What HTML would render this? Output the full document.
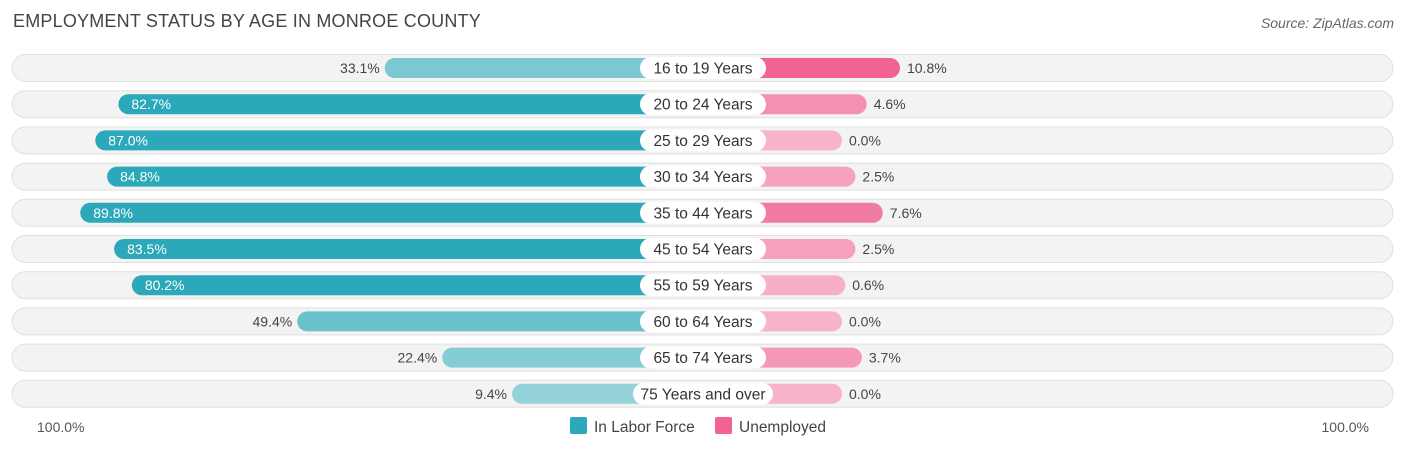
<!DOCTYPE html>
<html><head><meta charset="utf-8">
<style>
body{margin:0;width:1406px;height:450px;background:#fff;font-family:"Liberation Sans",sans-serif;position:relative;overflow:hidden}
.title{position:absolute;left:13px;top:11px;font-size:18px;color:#444;letter-spacing:0.2px}
.src{position:absolute;right:12px;top:15px;font-size:14px;color:#666;font-style:italic}
svg{position:absolute;left:0;top:0}
</style></head><body>
<div class="title">EMPLOYMENT STATUS BY AGE IN MONROE COUNTY</div>
<div class="src">Source: ZipAtlas.com</div>
<svg id="chart" width="1406" height="450"></svg>
<script>
const categories=["16 to 19 Years","20 to 24 Years","25 to 29 Years","30 to 34 Years","35 to 44 Years","45 to 54 Years","55 to 59 Years","60 to 64 Years","65 to 74 Years","75 Years and over"];
const laborForce=[33.1,82.7,87.0,84.8,89.8,83.5,80.2,49.4,22.4,9.4];
const unemployed=[10.8,4.6,0.0,2.5,7.6,2.5,0.6,0.0,3.7,0.0];
const axisLabels=["100.0%","100.0%"];
const legendLabels=["In Labor Force","Unemployed"];

const NS="http://www.w3.org/2000/svg";
const svg=document.getElementById('chart');
const cx=703, rowY0=68, pitch=36.2;
function xLeft(v){return cx-(140.5+5.37*v);}
function xRight(v){return cx+(139+5.37*v);}
function yRow(i){return rowY0+i*pitch;}
function mk(tag,attrs){const e=document.createElementNS(NS,tag);for(const k in attrs)e.setAttribute(k,attrs[k]);svg.appendChild(e);return e;}
function mix(a,b,t){const h=s=>[1,3,5].map(i=>parseInt(s.substr(i,2),16));const A=h(a),B=h(b);return 'rgb('+A.map((x,i)=>Math.round(x+(B[i]-x)*t)).join(',')+')';}
const defs=mk('defs',{});
categories.forEach((c,i)=>{
  const y=yRow(i);
  const bg=mk('rect',{x:12,y:y-13.5,width:1381,height:27,rx:13.5,fill:'#f3f3f3',stroke:'#e0e0e0','stroke-width':1});
  
  
  const lv=laborForce[i];
  const lx=xLeft(lv);
  const strong=lv>60;
  const lb=mk('rect',{x:lx,y:y-10,width:cx-lx,height:20,rx:10,fill:strong?'#2ba8b9':mix('#9dd6dc','#5fbcc8',lv/60)});
  
  
  const lt=mk('text',{x:strong?lx+13:lx-5,y:y+5,'font-size':14,fill:strong?'#fff':'#444','text-anchor':strong?'start':'end'});
  lt.textContent=lv.toFixed(1)+'%';
  
  
  const uv=unemployed[i];
  const rx=xRight(uv);
  const ub=mk('rect',{x:cx,y:y-10,width:rx-cx,height:20,rx:10,fill:mix('#f7b3ca','#f06392',uv/10.8)});
  
  
  const ut=mk('text',{x:rx+7,y:y+5,'font-size':14,fill:'#444'});
  ut.textContent=uv.toFixed(1)+'%';
  
  
  const pw=c.length>14?140:126;
  const pill=mk('rect',{x:cx-pw/2,y:y-11,width:pw,height:22,rx:11,fill:'#fff'});
  
  
  const ct=mk('text',{x:cx,y:y+5.5,'font-size':15.5,fill:'#333','text-anchor':'middle'});
  ct.textContent=c;
  
  
});
const a1=mk('text',{x:37,y:432,'font-size':14,fill:'#555'});a1.textContent=axisLabels[0];


const a2=mk('text',{x:1369,y:432,'font-size':14,fill:'#555','text-anchor':'end'});a2.textContent=axisLabels[1];


const lg1=mk('rect',{x:570,y:417,width:17,height:17,rx:2,fill:'#2ba8b9'});


const lt1=mk('text',{x:594,y:432,'font-size':15.5,fill:'#444'});lt1.textContent=legendLabels[0];


const lg2=mk('rect',{x:715,y:417,width:17,height:17,rx:2,fill:'#f06392'});


const lt2=mk('text',{x:739,y:432,'font-size':15.5,fill:'#444'});lt2.textContent=legendLabels[1];


</script>
</body></html>
